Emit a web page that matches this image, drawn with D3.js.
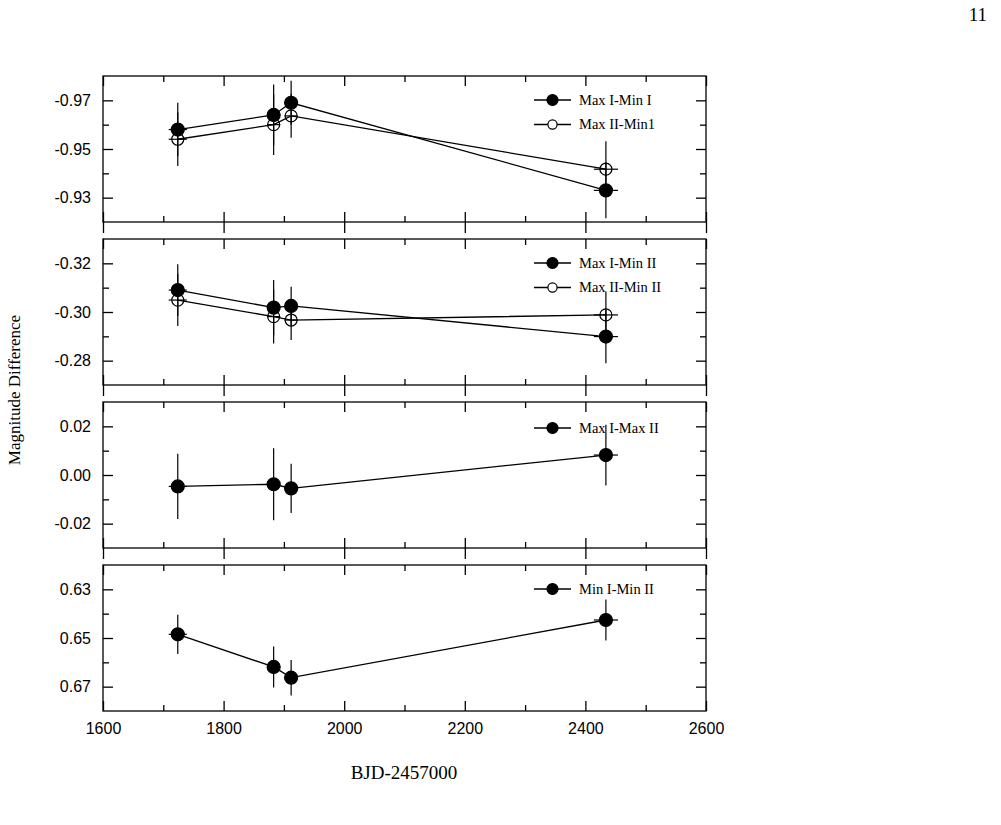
<!DOCTYPE html>
<html>
<head>
<meta charset="utf-8">
<script src="https://cdn.jsdelivr.net/npm/d3@7"></script>
<style>
  body { margin: 0; background: #fff; }
  svg { display: block; }
  .tick text { font-family: "Liberation Sans", Arial, sans-serif; font-size: 16px; fill: #000; }
  .tick line { stroke: #000; stroke-width: 1.3; }
  .serif { font-family: "Liberation Serif", "Times New Roman", serif; fill: #000; }
</style>
</head>
<body>
<script>
var width = 1001, height = 825;

// epochs of the four observing seasons (BJD-2457000) and their half-widths
var epochs = [1724, 1883, 1912, 2434];
var epochErr = [15, 11, 11, 20];

var xTicksMajor = [1600, 1800, 2000, 2200, 2400, 2600];
var xTicksMinor = [1700, 1900, 2100, 2300, 2500];

// panel 1
var maxIMinI = [-0.958, -0.964, -0.969, -0.933];
var maxIMinIErr = [0.011, 0.0125, 0.009, 0.0115];
var maxIIMinI = [-0.954, -0.960, -0.9636, -0.9417];
var maxIIMinIErr = [0.011, 0.0125, 0.009, 0.0115];

// panel 2
var maxIMinII = [-0.309, -0.3018, -0.3025, -0.2899];
var maxIMinIIErr = [0.0106, 0.0114, 0.0079, 0.011];
var maxIIMinII = [-0.3049, -0.2981, -0.2967, -0.2988];
var maxIIMinIIErr = [0.0107, 0.011, 0.0082, 0.0096];

// panel 3
var maxIMaxII = [-0.0047, -0.0038, -0.0055, 0.0082];
var maxIMaxIIErr = [0.0134, 0.0148, 0.0101, 0.0125];

// panel 4
var minIMinII = [0.6485, 0.6619, 0.6663, 0.6426];
var minIMinIIErr = [0.0081, 0.0084, 0.0073, 0.0084];

var panelDomains = [[-0.98, -0.92], [-0.33, -0.27], [0.03, -0.03], [0.62, 0.68]];
var panelTicksMajor = [[-0.97, -0.95, -0.93], [-0.32, -0.30, -0.28], [0.02, 0.00, -0.02], [0.63, 0.65, 0.67]];
var panelTicksMinor = [[-0.96, -0.94], [-0.31, -0.29], [0.01, -0.01], [0.64, 0.66]];

var panels = [
  { series: [
      { name: "Max I-Min I", y: maxIMinI, err: maxIMinIErr, filled: true },
      { name: "Max II-Min1", y: maxIIMinI, err: maxIIMinIErr, filled: false } ] },
  { series: [
      { name: "Max I-Min II", y: maxIMinII, err: maxIMinIIErr, filled: true },
      { name: "Max II-Min II", y: maxIIMinII, err: maxIIMinIIErr, filled: false } ] },
  { series: [
      { name: "Max I-Max II", y: maxIMaxII, err: maxIMaxIIErr, filled: true } ] },
  { series: [
      { name: "Min I-Min II", y: minIMinII, err: minIMinIIErr, filled: true } ] }
];

var left = 103, right = 706, top0 = 76, panelH = 146, gap = 17;
var fmt = function(d) { return d3.format(".2f")(d).replace("\u2212", "-"); };

var svg = d3.select("body").append("svg")
    .attr("width", width)
    .attr("height", height);

var x = d3.scaleLinear().domain([1600, 2600]).range([0, right - left]);

panels.forEach(function(p, i) {
  var g = svg.append("g")
      .attr("transform", "translate(" + left + "," + (top0 + i * (panelH + gap)) + ")");
  var y = d3.scaleLinear().domain(panelDomains[i]).range([0, panelH]);
  var last = i === panels.length - 1;

  function clean(sel) { sel.select(".domain").remove(); }

  // y axes: labelled left, inward ticks both sides
  g.append("g").call(d3.axisLeft(y).tickValues(panelTicksMajor[i]).tickSize(-10).tickPadding(12).tickFormat(fmt)).call(clean);
  g.append("g").call(d3.axisLeft(y).tickValues(panelTicksMinor[i]).tickSize(-6).tickFormat("")).call(clean);
  g.append("g").attr("transform", "translate(" + (right - left) + ",0)")
      .call(d3.axisRight(y).tickValues(panelTicksMajor[i]).tickSize(-10).tickFormat("")).call(clean);
  g.append("g").attr("transform", "translate(" + (right - left) + ",0)")
      .call(d3.axisRight(y).tickValues(panelTicksMinor[i]).tickSize(-6).tickFormat("")).call(clean);

  // x axes
  g.append("g").call(d3.axisTop(x).tickValues(xTicksMajor).tickSize(-10).tickFormat("")).call(clean);
  g.append("g").call(d3.axisTop(x).tickValues(xTicksMinor).tickSize(-6).tickFormat("")).call(clean);
  var bottom = g.append("g").attr("transform", "translate(0," + panelH + ")");
  bottom.append("g").call(d3.axisBottom(x).tickValues(xTicksMajor).tickSize(-10)
      .tickPadding(12).tickFormat(last ? d3.format("d") : "")).call(clean);
  bottom.append("g").call(d3.axisBottom(x).tickValues(xTicksMinor).tickSize(-6).tickFormat("")).call(clean);
  if (!last) {
    bottom.append("g").call(d3.axisBottom(x).tickValues(xTicksMajor).tickSize(11).tickFormat("")).call(clean);
  }

  g.append("rect")
      .attr("width", right - left)
      .attr("height", panelH)
      .attr("fill", "none")
      .attr("stroke", "#000")
      .attr("stroke-width", 1.3);

  var line = d3.line()
      .x(function(d, k) { return x(epochs[k]); })
      .y(function(d) { return y(d); });

  // legend
  p.series.forEach(function(s, k) {
    var ly = 24 + k * 24.5 + (i === 2 ? 2 : 0);
    var lg = g.append("g").attr("transform", "translate(431," + ly + ")");
    lg.append("line").attr("x1", 0).attr("x2", 37).attr("stroke", "#000").attr("stroke-width", 1.3);
    lg.append("circle").attr("cx", 18.5).attr("r", s.filled ? 5.5 : 4.6)
        .attr("fill", s.filled ? "#000" : "#fff").attr("stroke", "#000").attr("stroke-width", 1.2);
    lg.append("text").attr("class", "serif").attr("x", 45).attr("dy", "0.33em")
        .style("font-size", "14.5px").text(s.name);
  });

  p.series.forEach(function(s) {
    g.append("path")
        .datum(s.y)
        .attr("d", line)
        .attr("fill", "none")
        .attr("stroke", "#000")
        .attr("stroke-width", 1.3);

    var pts = g.append("g").selectAll("g")
        .data(s.y)
        .enter().append("g");

    pts.append("line")
        .attr("x1", function(d, k) { return x(epochs[k]); })
        .attr("x2", function(d, k) { return x(epochs[k]); })
        .attr("y1", function(d, k) { return y(d - s.err[k]); })
        .attr("y2", function(d, k) { return y(d + s.err[k]); })
        .attr("stroke", "#000").attr("stroke-width", 1.2);

    pts.append("line")
        .attr("x1", function(d, k) { return x(epochs[k] - epochErr[k]); })
        .attr("x2", function(d, k) { return x(epochs[k] + epochErr[k]); })
        .attr("y1", function(d) { return y(d); })
        .attr("y2", function(d) { return y(d); })
        .attr("stroke", "#000").attr("stroke-width", 1.2);

    pts.append("circle")
        .attr("cx", function(d, k) { return x(epochs[k]); })
        .attr("cy", function(d) { return y(d); })
        .attr("r", s.filled ? 6.5 : 6)
        .attr("fill", s.filled ? "#000" : "none")
        .attr("stroke", "#000")
        .attr("stroke-width", 1.2);
  });
});

// axis titles
svg.append("text").attr("class", "serif")
    .attr("x", 404).attr("y", 779)
    .attr("text-anchor", "middle")
    .style("font-size", "19px")
    .text("BJD-2457000");

svg.append("text").attr("class", "serif")
    .attr("transform", "translate(20,390)rotate(-90)")
    .attr("text-anchor", "middle")
    .style("font-size", "17px")
    .text("Magnitude Difference");

svg.append("text").attr("class", "serif")
    .attr("x", 987).attr("y", 21)
    .attr("text-anchor", "end")
    .style("font-size", "19px")
    .text("11");
</script>
</body>
</html>
